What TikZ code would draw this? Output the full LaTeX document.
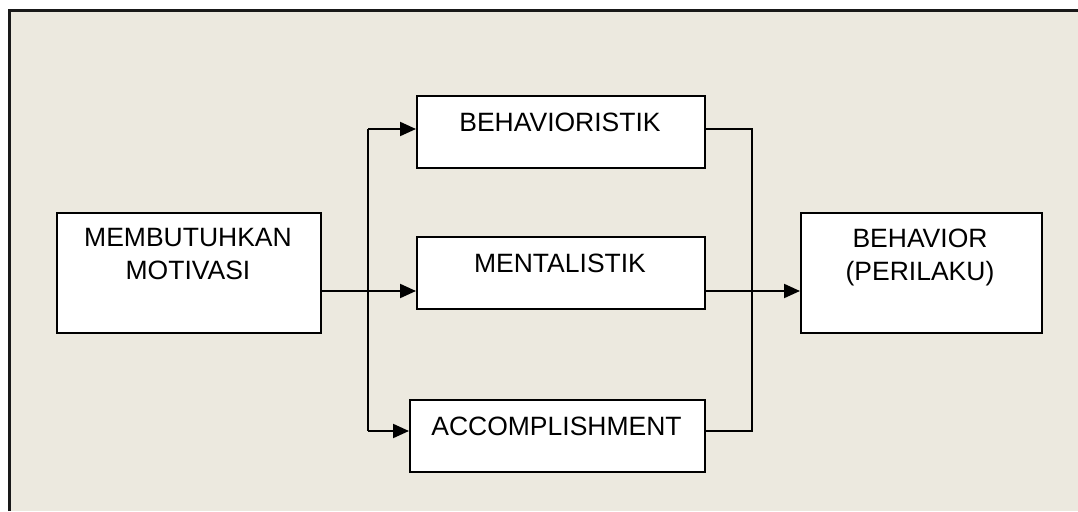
\documentclass[tikz,border=0pt]{standalone}
\usepackage{fontspec}
\setmainfont{Liberation Sans}
\usetikzlibrary{arrows.meta}
\definecolor{panelbg}{HTML}{ECE9DF}
\tikzset{
  boxnode/.style={draw=black, line width=2.1pt, fill=white, inner sep=0pt, anchor=north west},
  lbl/.style={inner sep=0pt, align=center, font=\fontsize{26.5pt}{33pt}\selectfont},
  conn/.style={line width=2.1pt, draw=black},
  arr/.style={conn, -{Triangle[length=16pt,width=14pt]}, shorten >=0pt}
}
\begin{document}
\begin{tikzpicture}[x=1pt,y=-1pt]
\useasboundingbox (0,0) rectangle (1078,511);
\fill[white] (0,0) rectangle (1078,511);
\fill[panelbg] (9,11) rectangle (1078,511);
\draw[line width=3pt, black!90] (9,511) -- (9,11) -- (1078,11);

% boxes
\node[boxnode, minimum width=264pt, minimum height=120pt] (mot) at (56,212) {};
\node[boxnode, minimum width=288pt, minimum height=72pt] (beh) at (416,95) {};
\node[boxnode, minimum width=288pt, minimum height=72pt] (men) at (416,236) {};
\node[boxnode, minimum width=295pt, minimum height=72pt] (acc) at (409,399) {};
\node[boxnode, minimum width=241pt, minimum height=120pt] (out) at (800,212) {};

% labels
\node[lbl] (motT) at (188,254.5) {MEMBUTUHKAN\\MOTIVASI};
\node[lbl] (behT) at (560,122.5) {BEHAVIORISTIK};
\node[lbl] (menT) at (560,263.3) {MENTALISTIK};
\node[lbl] (accT) at (556.5,426.3) {ACCOMPLISHMENT};
\node[lbl] (outT) at (920,257) {BEHAVIOR\\(PERILAKU)};

% junction coordinates
\coordinate (jl) at (368,291);
\coordinate (jt) at (368,129);
\coordinate (jb) at (368,431);
\coordinate (jr) at (752,291);
\coordinate (rt) at (752,129);
\coordinate (rb) at (752,431);

% connectors
\draw[conn] (mot.east |- jl) -- (jl);
\draw[conn] (jt) -- (jb);
\draw[arr] (jl) -- (men.west |- jl);
\draw[arr] (jt) -- (beh.west |- jt);
\draw[arr] (jb) -- (acc.west |- jb);
\draw[conn] (beh.east |- rt) -- (rt) -- (rb) -- (acc.east |- rb);
\draw[arr] (men.east |- jr) -- (out.west |- jr);
\end{tikzpicture}
\end{document}
